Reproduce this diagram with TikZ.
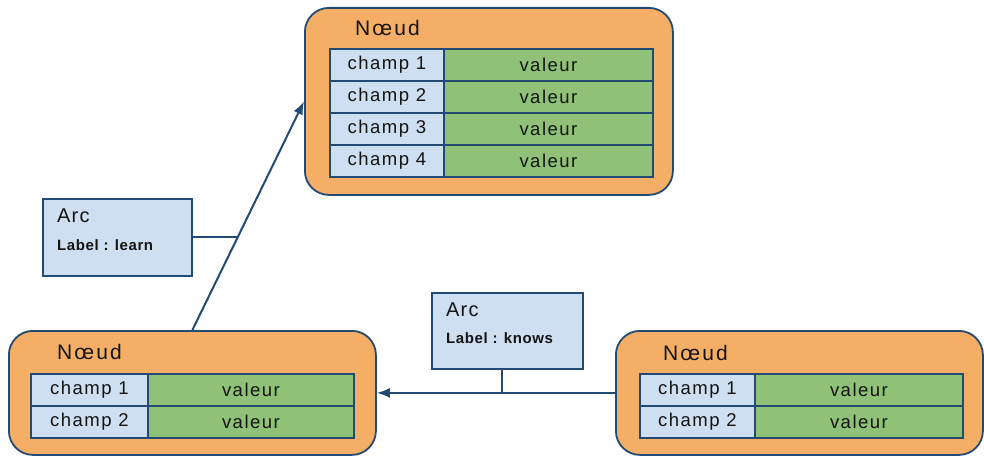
\documentclass[tikz,border=0pt]{standalone}
\usepackage{fontspec}
\setmainfont{Liberation Sans}
\usetikzlibrary{arrows.meta,calc}
\definecolor{orangefill}{RGB}{245,174,101}
\definecolor{cellblue}{RGB}{205,223,240}
\definecolor{cellgreen}{RGB}{143,193,118}
\definecolor{edgeblue}{RGB}{34,74,115}
\definecolor{txt}{RGB}{20,20,20}
\begin{document}
\begin{tikzpicture}[x=1pt,y=-1pt,
  noeud/.style={draw=edgeblue,line width=1.8pt,fill=orangefill,rounded corners=24pt,inner sep=0pt,anchor=north west},
  titre/.style={anchor=west,inner sep=0pt,text=txt,font=\fontsize{21}{24}\selectfont\addfontfeature{LetterSpace=10}},
  champ/.style={draw=edgeblue,line width=1.8pt,fill=cellblue,inner sep=0pt,anchor=north west,minimum height=32pt,text=txt,font=\fontsize{18.5}{20}\selectfont\addfontfeature{LetterSpace=8}},
  valeur/.style={champ,fill=cellgreen},
  arcbox/.style={draw=edgeblue,line width=1.8pt,fill=cellblue,inner sep=0pt,anchor=north west},
  arctitre/.style={anchor=west,inner sep=0pt,text=txt,font=\fontsize{20}{22}\selectfont\addfontfeature{LetterSpace=6}},
  arclabel/.style={anchor=west,inner sep=0pt,text=txt,font=\bfseries\fontsize{15}{17}\selectfont\addfontfeature{LetterSpace=4}},
  lien/.style={draw=edgeblue,line width=2pt},
  fleche/.style={lien,-{Latex[length=13pt,width=10pt]}}
]
\useasboundingbox (0,0) rectangle (984,457);

% top node
\node[noeud,minimum width=368pt,minimum height=187pt] (n1) at (304,7) {};
\node[titre] (n1t) at (355,28) {Nœud};
\node[champ,minimum width=114pt] (n1c1) at (329,48) {champ 1};
\node[valeur,minimum width=209pt] (n1v1) at (443,48) {valeur};
\node[champ,minimum width=114pt] (n1c2) at (329,80) {champ 2};
\node[valeur,minimum width=209pt] (n1v2) at (443,80) {valeur};
\node[champ,minimum width=114pt] (n1c3) at (329,112) {champ 3};
\node[valeur,minimum width=209pt] (n1v3) at (443,112) {valeur};
\node[champ,minimum width=114pt] (n1c4) at (329,144) {champ 4};
\node[valeur,minimum width=209pt] (n1v4) at (443,144) {valeur};

% bottom-left node
\node[noeud,minimum width=367pt,minimum height=124pt] (n2) at (8,330) {};
\node[titre] (n2t) at (57,352) {Nœud};
\node[champ,minimum width=117pt] (n2c1) at (30,373) {champ 1};
\node[valeur,minimum width=206pt] (n2v1) at (147,373) {valeur};
\node[champ,minimum width=117pt] (n2c2) at (30,405) {champ 2};
\node[valeur,minimum width=206pt] (n2v2) at (147,405) {valeur};

% right node
\node[noeud,minimum width=367pt,minimum height=124pt] (n3) at (615,330) {};
\node[titre] (n3t) at (663,353) {Nœud};
\node[champ,minimum width=115pt] (n3c1) at (639,373) {champ 1};
\node[valeur,minimum width=208pt] (n3v1) at (754,373) {valeur};
\node[champ,minimum width=115pt] (n3c2) at (639,405) {champ 2};
\node[valeur,minimum width=208pt] (n3v2) at (754,405) {valeur};

% arc boxes
\node[arcbox,minimum width=149pt,minimum height=77pt] (a1) at (42,198) {};
\node[arctitre] (a1t) at (57,216) {Arc};
\node[arclabel] (a1l) at (57,245) {Label : learn};
\node[arcbox,minimum width=151pt,minimum height=76pt] (a2) at (431,292) {};
\node[arctitre] (a2t) at (446,310) {Arc};
\node[arclabel] (a2l) at (446,338) {Label : knows};

% edges
\draw[fleche] (n2.north) -- (n1.west) coordinate[pos=0.41] (m1);
\draw[lien] (a1.east) -- (a1.east -| m1);
\draw[fleche] (n3.west) -- (n2.east) coordinate[pos=0.475] (m2);
\draw[lien] (a2.south -| m2) -- (m2);
\end{tikzpicture}
\end{document}
